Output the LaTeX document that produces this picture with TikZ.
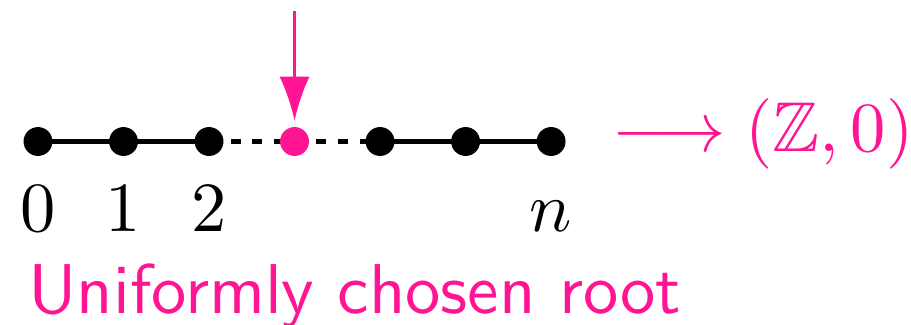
\documentclass[tikz,border=0pt]{standalone}
\usepackage{amssymb}
\usepackage{xcolor}
\usetikzlibrary{arrows.meta,positioning,backgrounds}
\definecolor{rootpink}{HTML}{FF1493}

\begin{document}
\begin{tikzpicture}[font=\normalsize, >={Latex[length=6.24pt,width=4.26pt]}]
  \tikzstyle{vtx}=[circle, fill=black, inner sep=0pt, minimum size=4.1pt]
  \tikzstyle{lbl}=[inner sep=0pt, text height=6.5pt, text depth=0pt]
  \tikzstyle{edge}=[line width=0.65pt]
  \useasboundingbox (-5.39pt,-25.89pt) rectangle (123.83pt,20.07pt);

  % the path 0 .. n
  \foreach \i in {0,1,2,4,5,6}
    \node[vtx] (v\i) at (\i*12.13pt,0) {};
  \node[vtx, fill=rootpink] (v3) at (3*12.13pt,0) {};
  \begin{scope}[on background layer]
    \draw[edge] (v0.center) -- (v1.center) -- (v2.center);
    \draw[edge] (v4.center) -- (v5.center) -- (v6.center);
    \draw[edge, dash pattern=on 1.42pt off 1.66pt] (v2.center) -- (v3.center);
    \draw[edge, dash pattern=on 1.42pt off 1.66pt] (v3.center) -- (v4.center);
  \end{scope}
  \foreach \i/\t in {0/0,1/1,2/2,6/n}
    \node[lbl, below=3.8pt of v\i] (l\i) {$\t$};

  % the root
  \coordinate[above=16.2pt of v3] (drop);
  \draw[->, rootpink, line width=0.4pt, shorten >=0.7pt] (drop) -- (v3);
  \node[right=6.2pt of v6, anchor=base west, yshift=-1.35pt, inner sep=0pt, text=rootpink] (lim) {$\longrightarrow (\mathbb{Z},0)$};
  \node[anchor=base west, inner sep=0pt, text=rootpink, font=\sffamily] (cap) at (-1.56pt,-24.33pt) {Uniformly chosen root};
\end{tikzpicture}
\end{document}
